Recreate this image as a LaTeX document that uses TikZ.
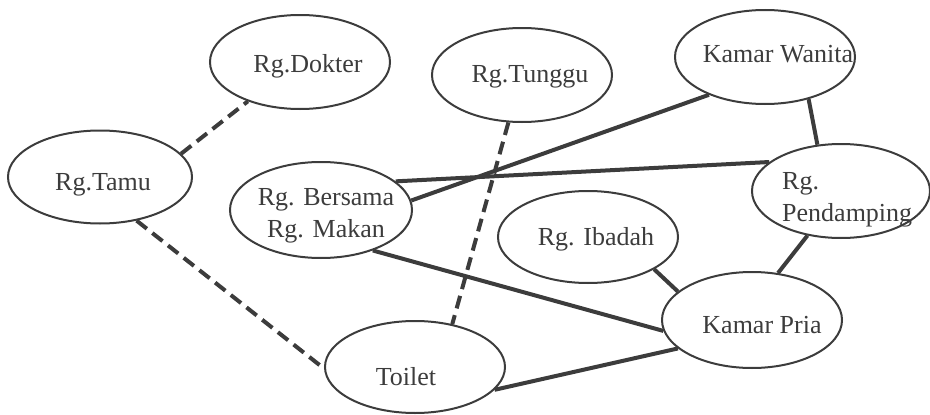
\documentclass[tikz,border=0pt]{standalone}
\usepackage{fontspec}
\setmainfont{Liberation Serif}
\usetikzlibrary{shapes.geometric}

\definecolor{ink}{HTML}{3C3C3C}

\begin{document}
\begin{tikzpicture}[x=1pt, y=-1pt,
    every node/.style={font=\fontsize{26}{32}\selectfont, text=ink, inner sep=0pt},
    room/.style={draw=ink, ellipse, line width=2pt, minimum width=180pt, minimum height=94pt},
    solidlink/.style={draw=ink, line width=4pt},
    dashlink/.style={draw=ink, line width=4pt, dash pattern=on 13pt off 7pt}]
    \useasboundingbox (0,0) rectangle (930,415);

    % ruang
    \node[room] (dokter) at (300,62) {};
    \node[room] (tunggu) at (522,75) {};
    \node[room] (wanita) at (765,57) {};
    \node[room, minimum width=184pt, minimum height=93pt] (tamu) at (100,177) {};
    \node[room, minimum width=182pt, minimum height=96pt] (bersama) at (321,210) {};
    \node[room, minimum width=178pt] (pendamping) at (841,191) {};
    \node[room, minimum height=92pt] (ibadah) at (588,237) {};
    \node[room, minimum height=96pt] (pria) at (752,320) {};
    \node[room, minimum height=92pt] (toilet) at (415,367) {};

    % label
    \node[anchor=base] (dokter-t) at (308,72) {Rg.Dokter};
    \node[anchor=base] (tunggu-t) at (530,82) {Rg.Tunggu};
    \node[anchor=base] (wanita-t) at (778,62) {Kamar Wanita};
    \node[anchor=base] (tamu-t) at (103,190) {Rg.Tamu};
    \node[align=center] (bersama-t) at (326,216) {Rg. Bersama\\Rg. Makan};
    \node[align=left, anchor=west] (pendamping-t) at (782,200) {Rg.\\Pendamping};
    \node[anchor=base] (ibadah-t) at (596,245) {Rg. Ibadah};
    \node[anchor=base] (pria-t) at (762,333) {Kamar Pria};
    \node[anchor=base] (toilet-t) at (406,385) {Toilet};

    % hubungan
    \draw[dashlink] (tamu.16) -- (dokter.217);
    \draw[dashlink] (tamu.310) -- (toilet.181);
    \draw[dashlink] (tunggu.254) -- (toilet.49);
    \draw[solidlink] (bersama.6) -- (wanita.214);
    \draw[solidlink] (bersama.21) -- (pendamping.158);
    \draw[solidlink] (bersama.322) -- (pria.187);
    \draw[solidlink] (wanita.316) -- (pendamping.117);
    \draw[solidlink] (ibadah.334) -- (pria.159);
    \draw[solidlink] (pendamping.233) -- (pria.61);
    \draw[solidlink] (toilet.344) -- (pria.201);
\end{tikzpicture}
\end{document}
